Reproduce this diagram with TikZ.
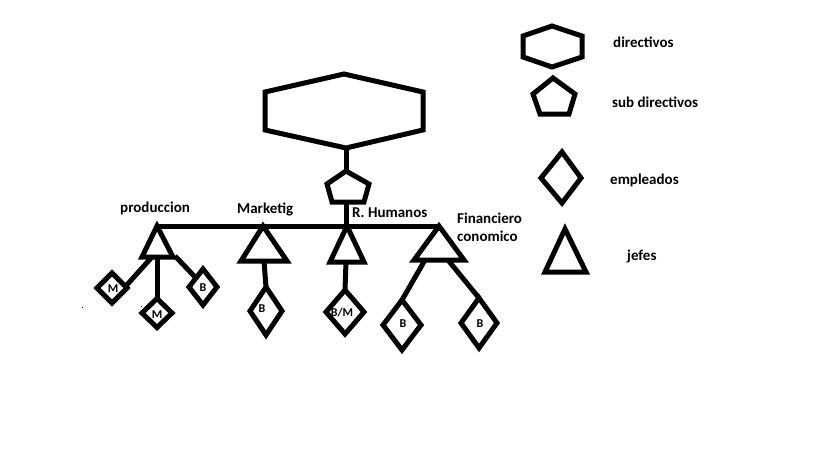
\documentclass[tikz,border=0pt]{standalone}
\usepackage{fontspec}
\setmainfont{Carlito}
\newcommand\mydia[5]{%
  \draw[shapeline] ({#1-#3},#2) -- (#1,{#2-#4}) -- ({#1+#3},#2) -- (#1,{#2+#4}) -- cycle;
  \coordinate (#5) at (#1,{#2-#4});}
\begin{document}
\begin{tikzpicture}[x=1pt,y=-1pt,
  shapeline/.style={draw=black, line width=5pt, line join=miter},
  conn/.style={draw=black, line width=5pt},
  lbl/.style={font=\bfseries\fontsize{15}{17}\selectfont, anchor=mid west, inner sep=0pt},
  slbl/.style={font=\bfseries\fontsize{12}{14}\selectfont, anchor=base, inner sep=0pt}]
\useasboundingbox[fill=white] (0,0) rectangle (819,460);

% small labels (drawn under the diamond outlines)
\node[slbl] (lm1) at (113,292.5) {M};
\node[slbl] (lm2) at (157,318) {M};
\node[slbl] (lb1) at (203,291.5) {B};
\node[slbl] (lb2) at (262,312) {B};
\node[slbl] (lbm) at (342,316) {B/M};
\node[slbl] (lb3) at (403,327.5) {B};
\node[slbl] (lb4) at (480,327.5) {B};

% director hexagon and sub-director pentagon
\draw[shapeline] (265,92) -- (344,74) -- (423,92) -- (423,130) -- (346,148) -- (265,130) -- cycle;
\coordinate (hexbot) at (346,148);
\draw[shapeline] (346,171) -- (369,184) -- (364,202) -- (332,202) -- (327,184) -- cycle;
\coordinate (pentop) at (346,171);
\coordinate (penbot) at (346,202);
\coordinate (barJ) at (346,226);
\coordinate (barL) at (155,226);
\coordinate (barR) at (440,226);
\draw[conn] (hexbot) -- (pentop);
\draw[conn] (penbot) -- (barJ);
\draw[conn] (barL) -- (barR);

% jefes triangles
\draw[shapeline] (157,226) -- (173,257) -- (142,257) -- cycle;
\draw[shapeline] (263,226) -- (287,261) -- (241,261) -- cycle;
\draw[shapeline] (347,226) -- (364,262) -- (330,262) -- cycle;
\draw[shapeline] (439,226) -- (464,260) -- (414,260) -- cycle;
\coordinate (t1a) at (152,257);
\coordinate (t1b) at (157,257);
\coordinate (t1c) at (175,256);
\coordinate (t2) at (264,261);
\coordinate (t3) at (346,262);
\coordinate (t4a) at (425,260);
\coordinate (t4b) at (448,260);

% empleados diamonds
\mydia{112}{288}{15}{15}{d1}
\mydia{157}{313}{15}{14.5}{d2}
\mydia{203}{287}{14}{18}{d3}
\mydia{266}{311}{16}{24}{d4}
\mydia{345}{312}{19}{22}{d5}
\mydia{402}{325}{19}{25}{d6}
\mydia{479}{323}{18}{25}{d7}
\coordinate (d1r) at (125,287);
\coordinate (d3l) at (196,278);

\draw[conn] (t1a) -- (d1r);
\draw[conn] (t1b) -- (d2);
\draw[conn] (t1c) -- (d3l);
\draw[conn] (t2) -- (d4);
\draw[conn] (t3) -- (d5);
\draw[conn] (t4a) -- (d6);
\draw[conn] (t4b) -- (d7);

% department labels
\node[lbl] (prod) at (120,210) {produccion};
\node[lbl] (mark) at (237,211) {Marketig};
\node[lbl] (rh) at (352,215) {R. Humanos};
\node[lbl] (fin1) at (457,221) {Financiero};
\node[lbl] (fin2) at (457,239) {conomico};

% legend
\draw[shapeline] (523,36) -- (552,26) -- (582,36) -- (582,57) -- (552,67) -- (523,57) -- cycle;
\draw[shapeline] (553,78) -- (575,94) -- (569,114) -- (540,114) -- (533,94) -- cycle;
\draw[shapeline] (541,178) -- (562,152) -- (581,178) -- (562,203) -- cycle;
\draw[shapeline] (565,229) -- (586,272) -- (545,272) -- cycle;
\node[lbl] (ldir) at (613,45) {directivos};
\node[lbl] (lsub) at (612,105) {sub directivos};
\node[lbl] (lemp) at (610,182) {empleados};
\node[lbl] (ljef) at (627,258) {jefes};

% stray dots
\fill[black] (81.5,306.5) rectangle (82.5,307.5);
\fill[black] (140.5,305.5) rectangle (141.5,306.5);
\end{tikzpicture}
\end{document}
